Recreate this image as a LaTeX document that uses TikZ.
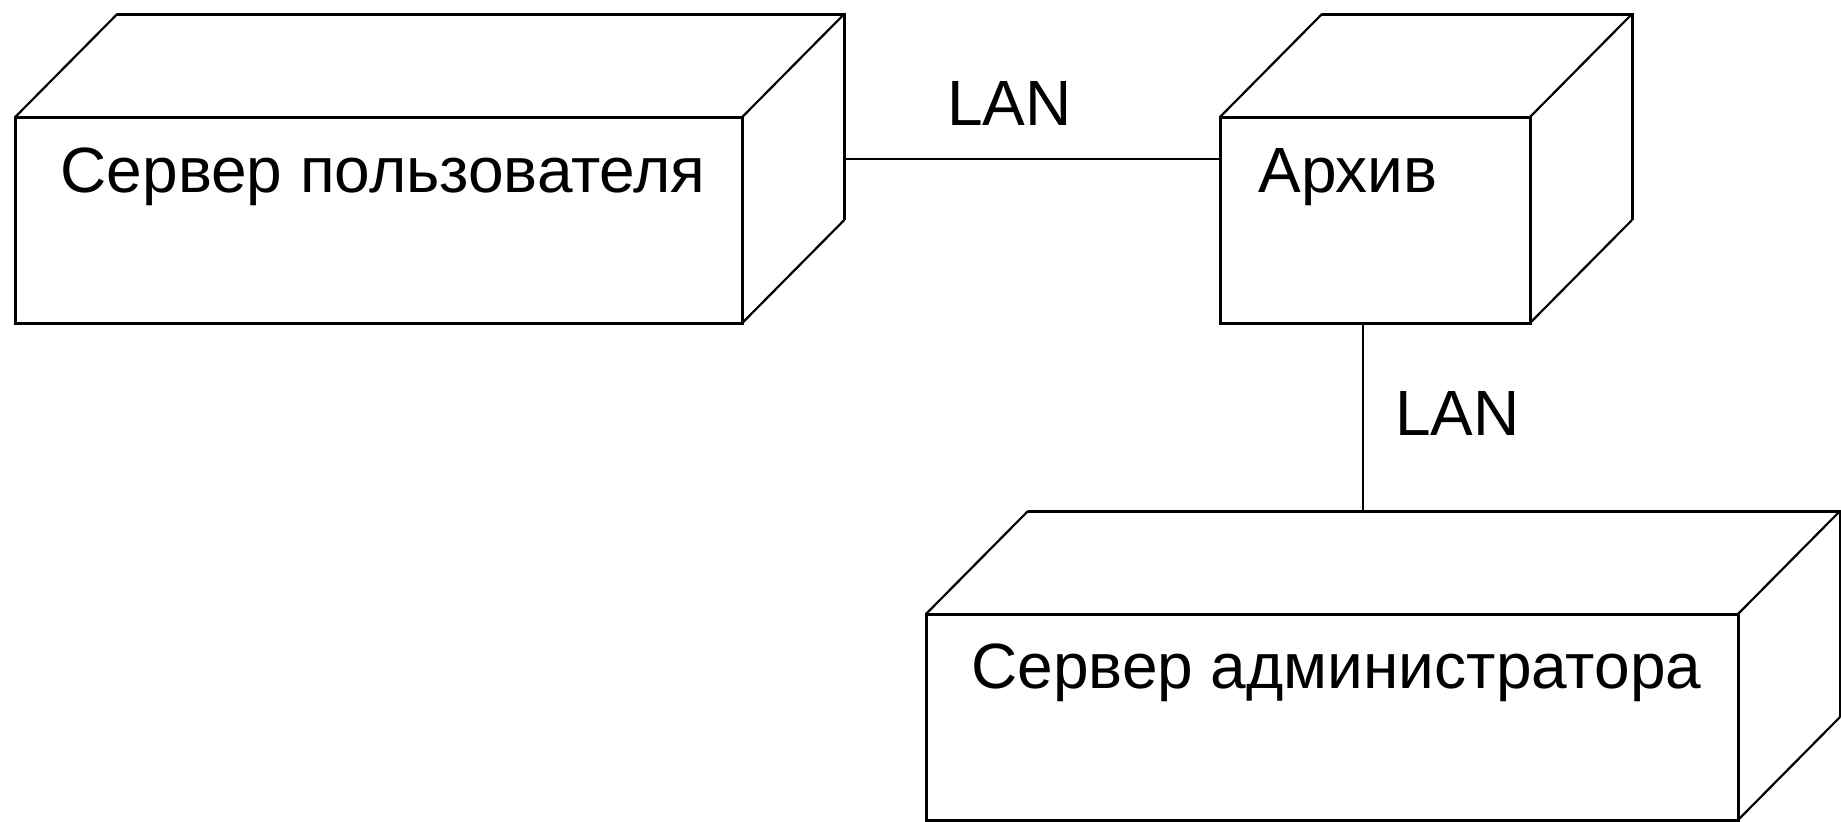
\documentclass[tikz,border=0pt]{standalone}
\usepackage{fontspec}
\setmainfont{Liberation Sans}
\usetikzlibrary{calc,positioning}

\tikzset{
  front/.style={draw, line width=1.5pt, minimum height=103pt, inner sep=0pt, outer sep=0pt},
  face/.style={line width=1.1pt},
  link/.style={line width=1pt},
  lbl/.style={font=\fontsize{32}{38}\selectfont, inner sep=0pt}
}
% top and side of a node box
\newcommand{\nodedepth}[1]{%
  \coordinate (#1-bnw) at ($(#1.north west)+(102,-103)$);
  \coordinate (#1-bne) at ($(#1.north east)+(102,-103)$);
  \coordinate (#1-bse) at ($(#1.south east)+(102,-103)$);
  \draw[face] (#1.north west) -- (#1-bnw);
  \draw[face] (#1.north east) -- (#1-bne);
  \draw[face] (#1.south east) -- (#1-bse);
  \draw[front] (#1-bnw) -- (#1-bne) -- (#1-bse);
}

\begin{document}
\begin{tikzpicture}[x=0.5pt, y=-0.5pt]
  \useasboundingbox (0,0) rectangle (1841,821);

  \node[front, minimum width=363.5pt] (usr) at (378.75,220) {};
  \node[front, minimum width=155pt] (arc) at (1375,220) {};
  \node[front, minimum width=406pt] (adm) at (1332,717) {};
  \nodedepth{usr}
  \nodedepth{arc}
  \nodedepth{adm}

  \node[lbl, anchor=base west] (usrt) at ($(usr.north west)+(45,75)$) {Сервер пользователя};
  \node[lbl, anchor=base west] (arct) at ($(arc.north west)+(38,75)$) {Архив};
  \node[lbl, anchor=base west] (admt) at ($(adm.north west)+(45,74)$) {Сервер администратора};

  \coordinate (a1) at ($(arc.north west)+(0,42)$);
  \draw[link] (a1) -- (a1 -| usr-bne)
    node[lbl, pos=0.56, anchor=base, yshift=17pt] (lan1) {LAN};
  \coordinate (a2) at ($(arc.south)+(-12,0)$);
  \draw[link] (a2) -- (a2 |- adm-bnw)
    node[lbl, pos=0.6, anchor=base west, xshift=15.5pt] (lan2) {LAN};
\end{tikzpicture}
\end{document}
